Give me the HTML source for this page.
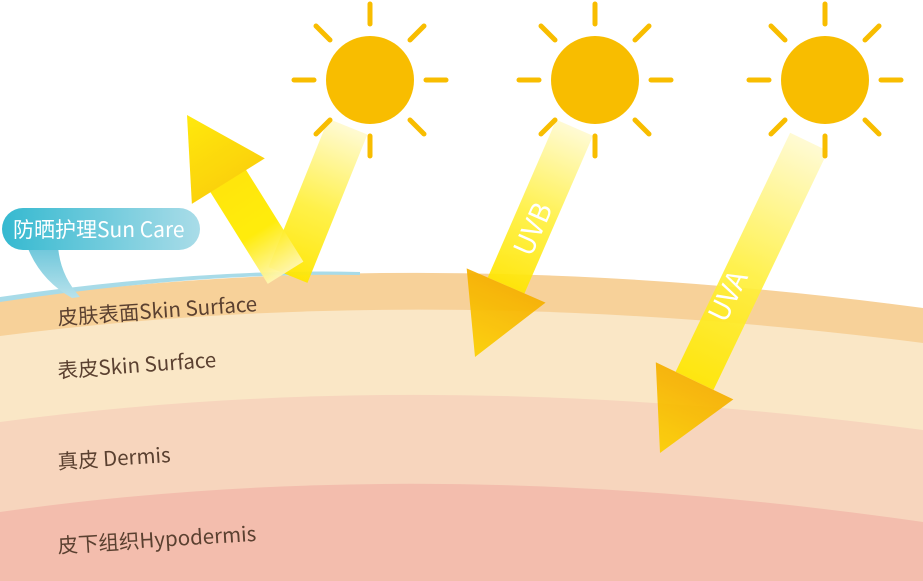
<!DOCTYPE html>
<html><head><meta charset="utf-8"><style>
html,body{margin:0;padding:0;background:#fff;width:923px;height:581px;overflow:hidden}
svg{display:block}
text{font-family:"Noto Sans CJK SC","Liberation Sans",sans-serif}
</style></head><body>
<svg width="923" height="581" viewBox="0 0 923 581" xmlns="http://www.w3.org/2000/svg">
<defs>
<linearGradient id="bub" x1="0" y1="0" x2="1" y2="0"><stop offset="0" stop-color="#35b9d0"/><stop offset="1" stop-color="#a9dce8"/></linearGradient>
<linearGradient id="tail" x1="0" y1="0" x2="0" y2="1"><stop offset="0" stop-color="#6cc6da"/><stop offset="1" stop-color="#b8e2ec"/></linearGradient>
<linearGradient id="shaft" x1="0" y1="1" x2="0" y2="0"><stop offset="0" stop-color="#ffe600"/><stop offset="0.45" stop-color="#fff040"/><stop offset="1" stop-color="#fffad0"/></linearGradient>
<linearGradient id="head" x1="0" y1="0" x2="0" y2="1"><stop offset="0" stop-color="#f6b000"/><stop offset="1" stop-color="#fcd000"/></linearGradient>
<linearGradient id="refl" x1="0" y1="0" x2="0" y2="1"><stop offset="0" stop-color="#fff6b0"/><stop offset="0.45" stop-color="#ffec00"/><stop offset="1" stop-color="#ffe400"/></linearGradient>
<linearGradient id="rhead" x1="0" y1="0" x2="0" y2="1"><stop offset="0" stop-color="#fbd000"/><stop offset="1" stop-color="#ffe800"/></linearGradient>
</defs>
<path d="M0,300 Q430,242 923,308 L923,581 L0,581Z" fill="#f7d199"/>
<path d="M0,336 Q430,280 923,343 L923,581 L0,581Z" fill="#fae7c6"/>
<path d="M0,422 Q430,364 923,430 L923,581 L0,581Z" fill="#f7d5bd"/>
<path d="M0,512 Q430,451 923,522 L923,581 L0,581Z" fill="#f3bdad"/>
<path d="M0,297 Q200,268 360,272 L360,275 Q200,272 0,302Z" fill="#a8dbe8"/>
<path d="M27,246 Q40,280 72,298 L80,297 Q60,275 58,246Z" fill="url(#tail)"/>
<rect x="2" y="208" width="198" height="42" rx="21" fill="url(#bub)"/>
<text x="13" y="237" font-size="21" fill="#fff">防晒护理Sun Care</text>
<g transform="translate(288,275) rotate(22)" opacity="0.95">
<rect x="-21" y="-160" width="42" height="160" fill="url(#shaft)"/>
</g>
<g transform="translate(187,115) rotate(148)" opacity="0.95">
<rect x="-21" y="-186" width="42" height="110" fill="url(#refl)"/>
<polygon points="0,0 -43,-78 43,-78" fill="url(#rhead)"/>
</g>
<g transform="translate(475,357) rotate(23.5)" opacity="0.92">
<rect x="-20" y="-250" width="40" height="172" fill="url(#shaft)"/>
<polygon points="0,0 -43,-78 43,-78" fill="url(#head)"/>
</g>
<g transform="translate(660,453) rotate(25.6)" opacity="0.92">
<rect x="-21" y="-345" width="42" height="265" fill="url(#shaft)"/>
<polygon points="0,0 -43,-80 43,-80" fill="url(#head)"/>
</g>
<g fill="#f8bd00" stroke="#f8bd00" stroke-width="5" stroke-linecap="round">
<g transform="translate(370,80)"><circle r="44" stroke="none"/><g id="rays"><line x1="0" y1="-56" x2="0" y2="-76"/><line x1="0" y1="56" x2="0" y2="76"/><line x1="56" y1="0" x2="76" y2="0"/><line x1="-56" y1="0" x2="-76" y2="0"/><line x1="40" y1="40" x2="54" y2="54"/><line x1="-40" y1="40" x2="-54" y2="54"/><line x1="40" y1="-40" x2="54" y2="-54"/><line x1="-40" y1="-40" x2="-54" y2="-54"/></g></g>
<g transform="translate(595,80)"><circle r="44" stroke="none"/><use href="#rays"/></g>
<g transform="translate(825,80)"><circle r="44" stroke="none"/><use href="#rays"/></g>
</g>
<text transform="translate(535,230) rotate(-66)" font-size="28" fill="#fff" text-anchor="middle" dominant-baseline="middle">UVB</text>
<text transform="translate(730,297) rotate(-64)" font-size="28" fill="#fff" text-anchor="middle" dominant-baseline="middle">UVA</text>
<g font-size="20.5" fill="#5a4030">
<text transform="translate(58,325) rotate(-4)">皮肤表面Skin Surface</text>
<text transform="translate(58,378) rotate(-4)">表皮Skin Surface</text>
<text transform="translate(58,469) rotate(-3.5)">真皮 Dermis</text>
<text transform="translate(58,553) rotate(-3.5)">皮下组织Hypodermis</text>
</g>
</svg>
</body></html>
